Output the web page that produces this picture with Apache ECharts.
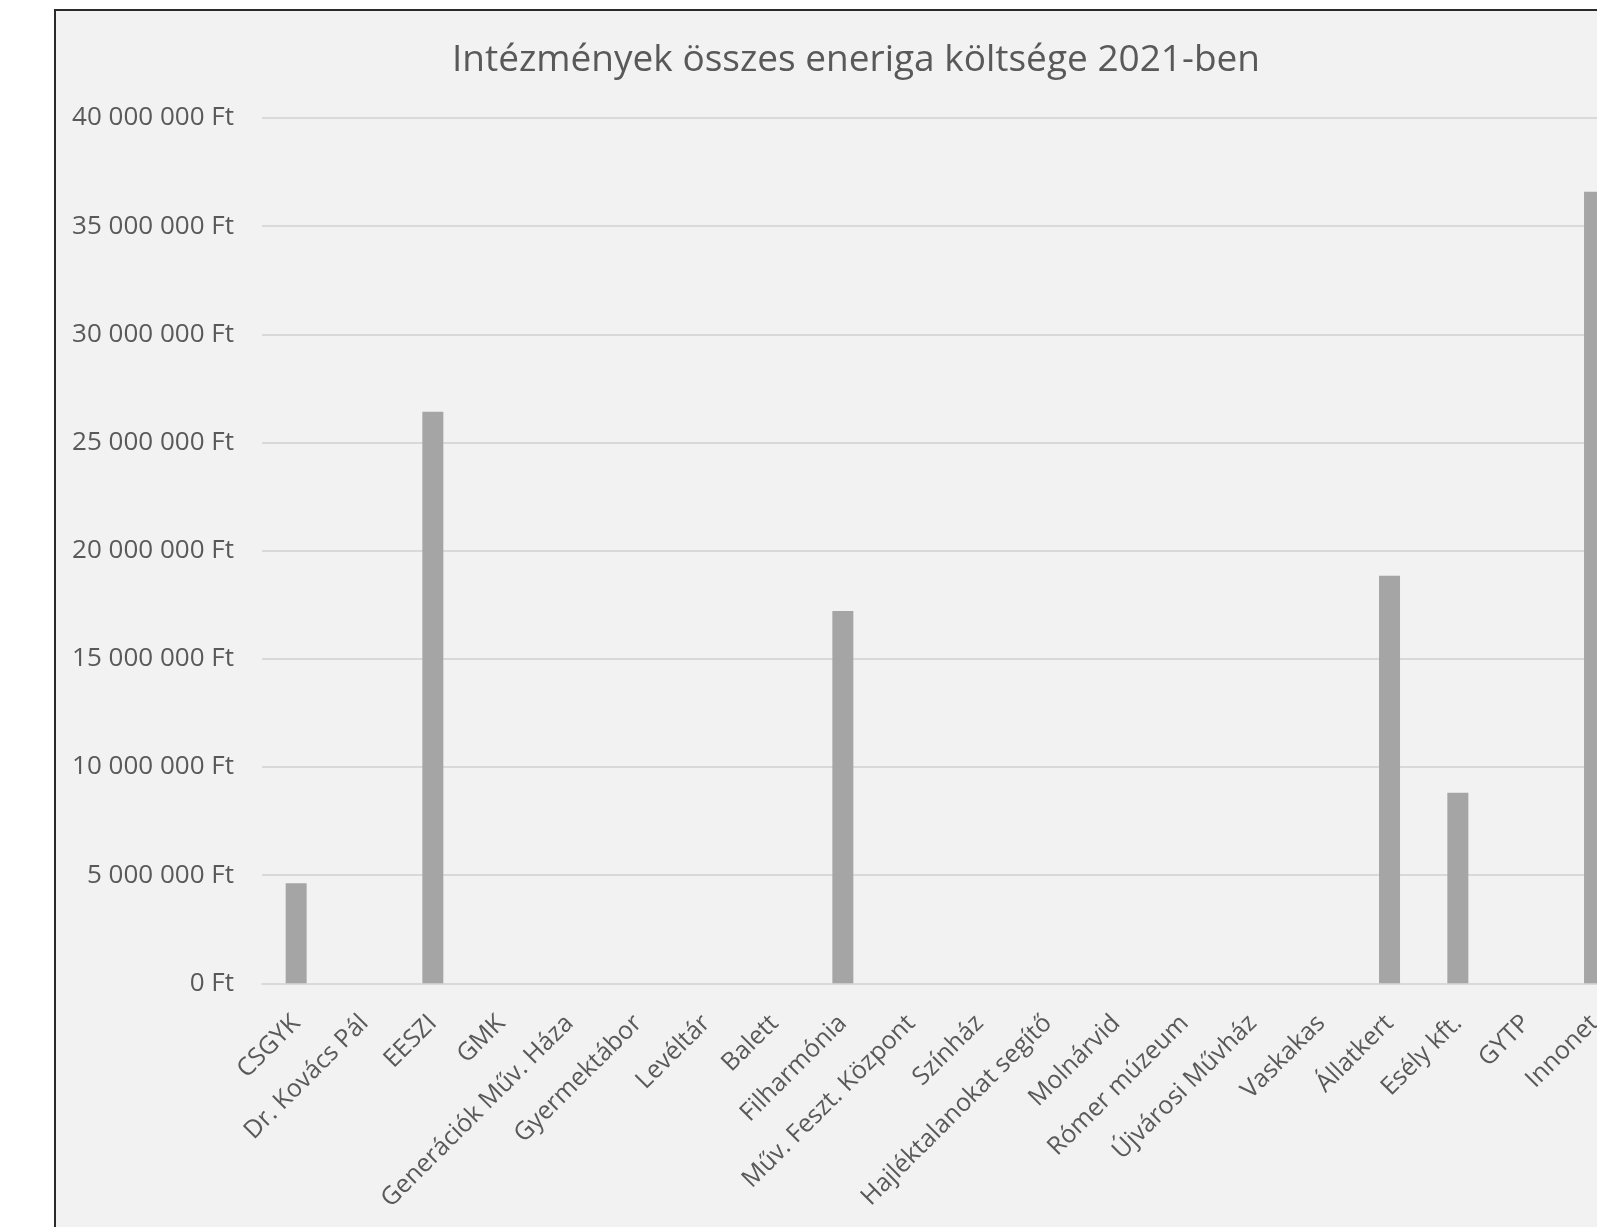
<!DOCTYPE html>
<html>
<head>
<meta charset="utf-8">
<script src="https://cdn.jsdelivr.net/npm/echarts@6/dist/echarts.min.js"></script>
<style>
  html, body { margin: 0; padding: 0; background: #ffffff; overflow: hidden; width: 1597px; height: 1227px; }
  #chart { position: absolute; left: 54px; top: 9px; width: 1600px; height: 1300px; border: 2px solid #2b2b2b; background: #f2f2f2; }
</style>
</head>
<body>
<div id="chart"></div>
<script>
const titleText = 'Intézmények összes eneriga költsége 2021-ben';
const categories = [
  'CSGYK', 'Dr. Kovács Pál', 'EESZI', 'GMK', 'Generációk Műv. Háza', 'Gyermektábor',
  'Levéltár', 'Balett', 'Filharmónia', 'Műv. Feszt. Központ', 'Színház',
  'Hajléktalanokat segítő', 'Molnárvid', 'Rómer múzeum', 'Újvárosi Művház',
  'Vaskakas', 'Állatkert', 'Esély kft.', 'GYTP', 'Innonet'
];
const costs = [
  4620000, 0, 26420000, 0, 0, 0,
  0, 0, 17210000, 0, 0,
  0, 0, 0, 0,
  0, 18840000, 8810000, 0, 36590000
];
const yMin = 0, yMax = 40000000, yStep = 5000000;

function fmtFt(v) {
  return String(Math.round(v)).replace(/\B(?=(\d{3})+(?!\d))/g, ' ') + ' Ft';
}

const chart = echarts.init(document.getElementById('chart'), null, { renderer: 'canvas' });
chart.setOption({
  backgroundColor: '#f2f2f2',
  animation: false,
  title: {
    text: titleText,
    left: 'center',
    top: 26,
    textStyle: { fontFamily: 'Open Sans', fontSize: 37, fontWeight: 'normal', color: '#595959' }
  },
  grid: { left: 206, top: 107, width: 1366.7, height: 865.3, containLabel: false },
  xAxis: {
    type: 'category',
    data: categories,
    axisLine: { show: true, lineStyle: { color: '#d9d9d9', width: 2 } },
    axisTick: { show: false },
    axisLabel: {
      interval: 0,
      rotate: 45,
      margin: 36,
      verticalAlign: 'middle',
      fontFamily: 'Open Sans',
      fontSize: 25,
      color: '#595959'
    }
  },
  yAxis: {
    type: 'value',
    min: yMin,
    max: yMax,
    interval: yStep,
    axisLine: { show: false },
    axisTick: { show: false },
    splitLine: { lineStyle: { color: '#d9d9d9', width: 2 } },
    axisLabel: {
      margin: 28,
      fontFamily: 'Open Sans',
      fontSize: 26,
      lineHeight: 30,
      padding: [4, 0, 0, 0],
      color: '#595959',
      formatter: fmtFt
    }
  },
  series: [{
    type: 'bar',
    data: costs,
    barWidth: 21,
    itemStyle: { color: '#a5a5a5' }
  }]
});
</script>
</body>
</html>
